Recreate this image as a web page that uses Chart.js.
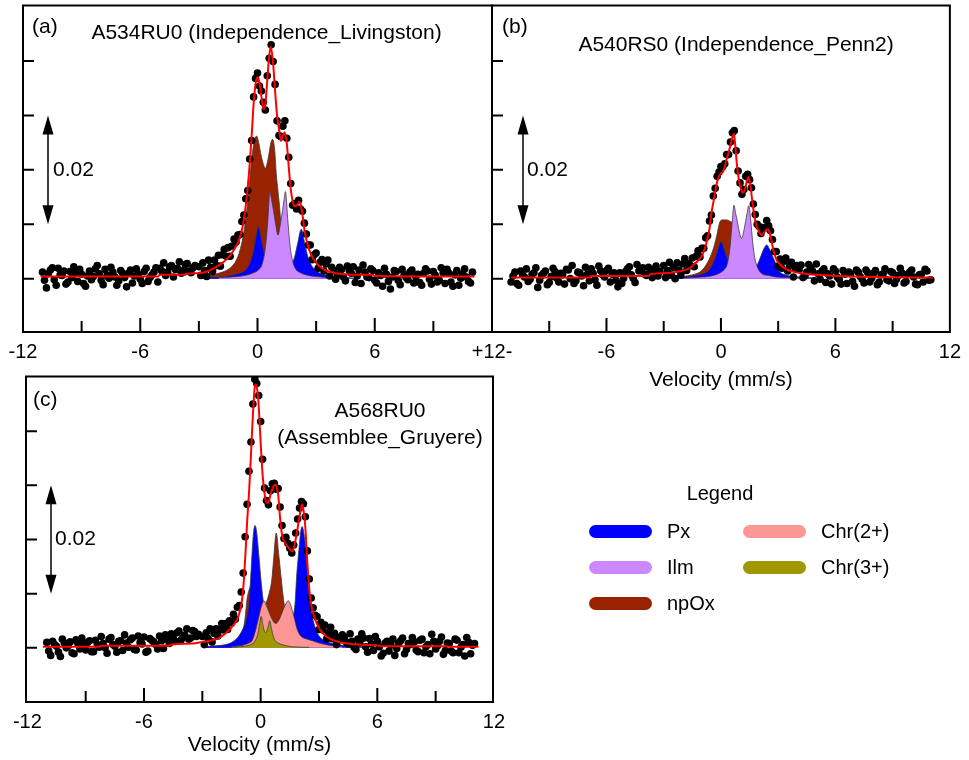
<!DOCTYPE html>
<html><head><meta charset="utf-8">
<script src="https://cdn.jsdelivr.net/npm/chart.js@4.4.0/dist/chart.umd.min.js"></script>
<style>
html,body{margin:0;padding:0;background:#fff;width:969px;height:760px;overflow:hidden;font-family:"Liberation Sans",Arial,sans-serif;}
canvas{position:absolute;left:0;top:0;}
.t{position:absolute;font-size:20px;line-height:24px;color:#000;white-space:nowrap;}
.sw{position:absolute;width:63px;height:13px;border-radius:7px;}
</style></head><body>
<canvas id="ca" width="969" height="760"></canvas>
<canvas id="cb" width="969" height="760"></canvas>
<canvas id="cc" width="969" height="760"></canvas>
<div id="legend"></div>
<script>
// ---------- DATA ----------
const velocity = [-11.0,-10.8,-10.6,-10.4,-10.2,-10.0,-9.8,-9.6,-9.4,-9.2,-9.0,-8.8,-8.6,-8.4,-8.2,-8.0,-7.8,-7.6,-7.4,-7.2,-7.0,-6.8,-6.6,-6.4,-6.2,-6.0,-5.8,-5.6,-5.4,-5.2,-5.0,-4.8,-4.6,-4.4,-4.2,-4.0,-3.8,-3.6,-3.4,-3.2,
-3.0,-2.9,-2.8,-2.7,-2.6,-2.5,-2.4,-2.3,-2.2,-2.1,-2.0,-1.9,-1.8,-1.7,-1.6,-1.5,-1.4,-1.3,-1.2,-1.1,-1.0,-0.9,-0.8,-0.7,-0.6,-0.5,-0.4,-0.3,-0.2,-0.1,0.0,0.1,0.2,0.3,0.4,0.5,0.6,0.7,0.8,0.9,1.0,1.1,1.2,1.3,1.4,1.5,1.6,1.7,1.8,1.9,2.0,2.1,2.2,2.3,2.4,2.5,2.6,2.7,2.8,2.9,3.0,3.1,3.2,3.3,3.4,3.5,3.6,3.7,3.8,3.9,4.0,
4.2,4.4,4.6,4.8,5.0,5.2,5.4,5.6,5.8,6.0,6.2,6.4,6.6,6.8,7.0,7.2,7.4,7.6,7.8,8.0,8.2,8.4,8.6,8.8,9.0,9.2,9.4,9.6,9.8,10.0,10.2,10.4,10.6,10.8,11.0];
// interleaved channels in the flat wings
const velocityMid = [-10.9,-10.7,-10.5,-10.3,-10.1,-9.9,-9.7,-9.5,-9.3,-9.1,-8.9,-8.7,-8.5,-8.3,-8.1,-7.9,-7.7,-7.5,-7.3,-7.1,-6.9,-6.7,-6.5,-6.3,-6.1,-5.9,-5.7,-5.5,-5.3,-5.1,-4.9,-4.7,-4.5,-4.3,-4.1,-3.9,-3.7,-3.5,-3.3,
4.1,4.3,4.5,4.7,4.9,5.1,5.3,5.5,5.7,5.9,6.1,6.3,6.5,6.7,6.9,7.1,7.3,7.5,7.7,7.9,8.1,8.3,8.5,8.7,8.9,9.1,9.3,9.5,9.7,9.9,10.1,10.3,10.5,10.7,10.9];

const obsA = [0.0012,-0.0017,0.0016,-0.0002,0.0019,0.0006,-0.0010,0.0013,0.0022,-0.0005,0.0008,-0.0014,0.0014,0.0004,0.0024,-0.0003,0.0017,0.0001,0.0012,-0.0012,0.0015,0.0002,0.0010,-0.0008,0.0018,-0.0001,0.0013,-0.0005,0.0007,0.0020,0.0019,0.0029,0.0012,0.0024,0.0017,0.0031,0.0015,0.0028,0.0011,0.0024,
0.0022,0.0006,0.0029,0.0015,0.0004,0.0034,0.0021,0.0013,0.0034,0.0024,0.0043,0.0023,0.0044,0.0054,0.0041,0.0057,0.0041,0.0060,0.0073,0.0067,0.0080,0.0081,0.0105,0.0117,0.0147,0.0162,0.0220,0.0254,0.0334,0.0368,0.0378,0.0354,0.0345,0.0324,0.0310,0.0373,0.0405,0.0430,0.0399,0.0357,0.0290,0.0263,0.0261,0.0280,0.0290,0.0258,0.0223,0.0175,0.0135,0.0138,0.0128,0.0144,0.0128,0.0124,0.0102,0.0082,0.0062,0.0062,0.0035,0.0044,0.0047,0.0019,0.0030,0.0035,0.0014,0.0027,0.0034,0.0005,0.0021,0.0015,-0.0001,
0.0021,0.0003,0.0023,0.0010,-0.0007,0.0016,0.0025,0.0003,0.0018,-0.0003,0.0011,-0.0014,0.0008,-0.0019,0.0015,-0.0003,0.0017,0.0002,0.0012,-0.0008,0.0008,-0.0012,0.0018,-0.0001,0.0013,-0.0006,0.0020,-0.0009,0.0010,-0.0014,0.0015,0.0001,0.0018,-0.0005,0.0012];
const obsAMid = [-0.0003,0.0009,0.0020,-0.0012,0.0007,0.0014,-0.0006,0.0002,0.0011,0.0017,-0.0009,0.0005,-0.0002,0.0018,0.0009,-0.0011,0.0006,0.0021,0.0003,-0.0004,0.0010,-0.0015,0.0016,0.0005,0.0008,-0.0009,0.0019,0.0002,0.0012,-0.0006,0.0014,0.0006,0.0022,0.0003,0.0019,0.0010,0.0026,0.0014,0.0020,
0.0008,0.0017,-0.0004,0.0014,0.0022,0.0005,-0.0009,0.0012,0.0002,0.0015,-0.0008,0.0006,0.0019,-0.0005,0.0003,0.0013,-0.0011,0.0007,-0.0002,0.0016,0.0004,-0.0007,0.0010,0.0014,-0.0010,0.0006,-0.0003,0.0011,0.0017,-0.0006,0.0007,-0.0012,0.0009,0.0003,-0.0008];

const obsB = [-0.0006,0.0012,-0.0012,0.0007,0.0018,-0.0001,0.0011,-0.0016,0.0006,0.0014,-0.0007,0.0019,0.0001,0.0010,-0.0010,0.0016,0.0024,-0.0004,0.0011,-0.0013,0.0008,0.0018,-0.0002,0.0023,0.0007,0.0015,-0.0006,0.0011,-0.0015,-0.0009,0.0013,0.0022,0.0001,0.0026,0.0015,0.0008,0.0021,0.0002,0.0023,0.0013,
0.0024,0.0002,0.0015,0.0030,0.0007,0.0021,0.0000,0.0029,0.0016,0.0007,0.0027,0.0037,0.0015,0.0028,0.0024,0.0038,0.0022,0.0041,0.0051,0.0040,0.0056,0.0056,0.0075,0.0079,0.0106,0.0117,0.0152,0.0166,0.0188,0.0196,0.0206,0.0206,0.0211,0.0228,0.0228,0.0251,0.0268,0.0272,0.0235,0.0198,0.0176,0.0155,0.0164,0.0188,0.0192,0.0182,0.0167,0.0137,0.0118,0.0100,0.0096,0.0083,0.0094,0.0093,0.0107,0.0097,0.0088,0.0072,0.0050,0.0050,0.0023,0.0036,0.0019,0.0032,0.0038,0.0014,0.0024,0.0030,0.0003,0.0018,0.0024,
0.0025,0.0005,0.0026,0.0014,0.0027,-0.0001,0.0018,0.0009,-0.0010,0.0014,-0.0001,0.0015,-0.0009,0.0009,-0.0014,0.0012,-0.0001,0.0016,-0.0006,0.0010,-0.0011,0.0007,0.0018,-0.0004,0.0011,-0.0001,0.0019,-0.0008,0.0008,0.0016,-0.0010,0.0007,-0.0006,0.0014,-0.0002];
const obsBMid = [0.0005,-0.0009,0.0014,0.0003,-0.0005,0.0008,0.0020,-0.0003,0.0010,-0.0011,0.0004,0.0013,-0.0006,0.0007,0.0017,0.0000,-0.0009,0.0012,0.0005,0.0021,-0.0004,0.0010,-0.0012,0.0014,0.0003,0.0019,0.0008,-0.0003,0.0011,0.0001,0.0018,0.0007,-0.0007,0.0014,0.0020,0.0006,0.0012,0.0017,0.0005,
0.0017,0.0002,0.0012,0.0020,-0.0004,0.0009,0.0014,-0.0007,0.0005,0.0018,0.0003,-0.0010,0.0008,0.0012,-0.0005,0.0016,0.0004,-0.0008,0.0011,0.0001,0.0015,-0.0006,0.0009,-0.0002,0.0013,-0.0009,0.0006,0.0010,-0.0005,0.0012,0.0003,-0.0011,0.0008,0.0017,-0.0003];

const obsC = [0.0010,-0.0014,0.0006,-0.0008,0.0016,0.0000,0.0011,-0.0011,0.0008,0.0018,-0.0004,0.0013,-0.0007,0.0006,0.0021,0.0000,0.0016,0.0006,-0.0008,0.0013,0.0024,0.0001,0.0018,-0.0004,0.0010,0.0020,-0.0006,0.0014,0.0006,0.0022,-0.0001,0.0016,0.0026,0.0012,0.0031,0.0019,0.0035,0.0018,0.0030,0.0025,
0.0021,0.0006,0.0028,0.0017,0.0035,0.0011,0.0027,0.0035,0.0022,0.0033,0.0045,0.0033,0.0045,0.0034,0.0050,0.0046,0.0062,0.0053,0.0075,0.0078,0.0103,0.0138,0.0205,0.0265,0.0326,0.0380,0.0450,0.0496,0.0488,0.0466,0.0418,0.0348,0.0295,0.0272,0.0264,0.0290,0.0303,0.0304,0.0293,0.0294,0.0260,0.0226,0.0202,0.0204,0.0193,0.0184,0.0175,0.0190,0.0212,0.0238,0.0258,0.0270,0.0266,0.0242,0.0179,0.0127,0.0092,0.0074,0.0060,0.0058,0.0034,0.0047,0.0033,0.0042,0.0017,0.0028,0.0038,0.0017,0.0027,0.0006,0.0019,
0.0024,0.0011,0.0026,0.0001,0.0016,0.0026,0.0002,0.0017,-0.0005,0.0012,-0.0015,0.0009,-0.0006,0.0016,-0.0001,0.0013,-0.0011,0.0008,0.0019,-0.0004,0.0014,-0.0009,0.0006,0.0025,-0.0002,0.0012,-0.0012,0.0009,-0.0006,0.0016,-0.0009,0.0006,0.0019,-0.0011,0.0008];
const obsCMid = [-0.0006,0.0012,0.0003,-0.0016,0.0009,0.0004,-0.0009,0.0015,-0.0002,0.0007,0.0010,-0.0007,0.0014,0.0001,0.0008,-0.0010,0.0019,0.0003,0.0012,-0.0005,0.0009,0.0015,-0.0003,0.0022,0.0007,-0.0008,0.0017,0.0011,-0.0002,0.0013,0.0024,0.0008,0.0018,0.0028,0.0014,0.0023,0.0016,0.0032,0.0021,
0.0015,0.0020,0.0007,0.0012,-0.0003,0.0009,0.0018,-0.0008,0.0007,0.0021,0.0002,-0.0010,0.0012,0.0005,-0.0014,0.0009,0.0018,-0.0003,0.0006,0.0011,-0.0007,0.0016,0.0002,-0.0011,0.0012,0.0004,0.0020,-0.0005,0.0008,-0.0009,0.0014,0.0001,-0.0015,0.0010,0.0005];

const fitA = [[-11.1,0.0004],[-5.1,0.0004],[-5.0,0.0007],[-3.7,0.0007],[-3.6,0.0009],[-3.0,0.0010],[-2.5,0.0014],[-2.2,0.0020],[-2.0,0.0024],[-1.8,0.0029],[-1.6,0.0035],[-1.4,0.0043],[-1.2,0.0053],[-1.0,0.0066],[-0.9,0.0076],[-0.8,0.0089],[-0.7,0.0108],[-0.6,0.0135],[-0.5,0.0168],[-0.4,0.0210],[-0.3,0.0262],[-0.2,0.0320],[-0.1,0.0358],[0.0,0.0370],[0.1,0.0360],[0.2,0.0335],[0.3,0.0312],[0.4,0.0320],[0.5,0.0365],[0.6,0.0410],[0.68,0.0426],[0.8,0.0395],[0.9,0.0345],[1.0,0.0300],[1.1,0.0275],[1.2,0.0253],[1.3,0.0262],[1.39,0.0269],[1.5,0.0248],[1.6,0.0205],[1.7,0.0165],[1.8,0.0143],[1.9,0.0133],[2.0,0.0134],[2.12,0.0141],[2.2,0.0138],[2.3,0.0118],[2.4,0.0090],[2.5,0.0072],[2.6,0.0058],[2.7,0.0048],[2.8,0.0040],[3.0,0.0029],[3.2,0.0022],[3.5,0.0015],[3.8,0.0012],[4.0,0.0010],[4.5,0.0008],[5.0,0.0007],[5.9,0.0007],[6.0,0.0005],[11.1,0.0004]];
const pxA = [[-3.0,0.0002],[-2.0,0.0003],[-1.5,0.0005],[-1.0,0.0009],[-0.7,0.0013],[-0.5,0.0021],[-0.35,0.0032],[-0.2,0.0052],[-0.1,0.0072],[0.05,0.0095],[0.2,0.0072],[0.35,0.0045],[0.55,0.0026],[0.8,0.0016],[1.1,0.0012],[1.4,0.0014],[1.7,0.0024],[1.9,0.0040],[2.05,0.0064],[2.24,0.0091],[2.4,0.0068],[2.55,0.0044],[2.7,0.0029],[2.9,0.0018],[3.2,0.0010],[3.6,0.0006],[4.2,0.0003],[5.0,0.0001]];
const ilmA = [[-2.0,0.0002],[-1.0,0.0004],[-0.5,0.0007],[-0.2,0.0011],[0.1,0.0018],[0.25,0.0028],[0.41,0.0059],[0.53,0.0108],[0.63,0.0160],[0.72,0.0145],[0.82,0.0125],[0.93,0.0100],[1.05,0.0080],[1.17,0.0100],[1.28,0.0125],[1.36,0.0145],[1.43,0.0160],[1.55,0.0108],[1.67,0.0059],[1.8,0.0032],[1.95,0.0018],[2.2,0.0011],[2.6,0.0006],[3.0,0.0004],[3.5,0.0002],[4.5,0.0001]];
const npoxA = [[-3.0,0.0003],[-2.5,0.0005],[-2.0,0.0010],[-1.6,0.0015],[-1.3,0.0023],[-1.1,0.0033],[-0.9,0.0052],[-0.7,0.0085],[-0.5,0.0142],[-0.37,0.0193],[-0.25,0.0234],[-0.15,0.0255],[-0.05,0.0262],[0.05,0.0252],[0.2,0.0224],[0.41,0.0203],[0.55,0.0222],[0.7,0.0252],[0.78,0.0256],[0.88,0.0236],[0.96,0.0193],[1.05,0.0160],[1.13,0.0132],[1.22,0.0092],[1.4,0.0058],[1.7,0.0032],[2.0,0.0020],[2.5,0.0010],[3.0,0.0006],[3.5,0.0004],[4.0,0.0002]];

const fitB = [[-11.0,0.0002],[-6.9,0.0002],[-6.8,0.0005],[-3.8,0.0005],[-3.7,0.0008],[-3.0,0.0010],[-2.6,0.0011],[-2.2,0.0013],[-1.8,0.0017],[-1.6,0.0020],[-1.4,0.0027],[-1.2,0.0033],[-1.0,0.0042],[-0.9,0.0050],[-0.8,0.0060],[-0.7,0.0075],[-0.6,0.0092],[-0.5,0.0120],[-0.4,0.0140],[-0.3,0.0160],[-0.2,0.0178],[-0.1,0.0188],[0.0,0.0194],[0.1,0.0196],[0.2,0.0205],[0.3,0.0220],[0.4,0.0232],[0.5,0.0245],[0.6,0.0260],[0.68,0.0266],[0.75,0.0245],[0.85,0.0205],[0.95,0.0180],[1.05,0.0165],[1.15,0.0158],[1.25,0.0163],[1.35,0.0178],[1.45,0.0187],[1.55,0.0170],[1.65,0.0140],[1.75,0.0115],[1.85,0.0098],[1.95,0.0090],[2.05,0.0083],[2.15,0.0080],[2.25,0.0084],[2.35,0.0089],[2.45,0.0091],[2.55,0.0085],[2.65,0.0070],[2.75,0.0052],[2.9,0.0036],[3.1,0.0026],[3.3,0.0020],[3.5,0.0016],[3.8,0.0013],[4.2,0.0010],[4.6,0.0008],[5.0,0.0007],[6.0,0.0005],[8.0,0.0003],[11.1,0.0002]];
const pxB = [[-3.0,0.0001],[-2.0,0.0003],[-1.5,0.0005],[-1.0,0.0008],[-0.7,0.0013],[-0.5,0.0022],[-0.3,0.0038],[-0.15,0.0055],[0.0,0.0068],[0.15,0.0056],[0.3,0.0040],[0.5,0.0025],[0.8,0.0015],[1.2,0.0011],[1.6,0.0014],[1.9,0.0025],[2.1,0.0042],[2.25,0.0055],[2.4,0.0062],[2.55,0.0054],[2.7,0.0042],[2.85,0.0030],[3.0,0.0018],[3.1,0.0012],[3.3,0.0008],[3.6,0.0005],[4.2,0.0003],[5.0,0.0001]];
const ilmB = [[-2.0,0.0001],[-1.0,0.0003],[-0.5,0.0005],[-0.09,0.0010],[0.15,0.0016],[0.34,0.0028],[0.48,0.0059],[0.6,0.0108],[0.68,0.0135],[0.77,0.0120],[0.86,0.0105],[0.95,0.0088],[1.08,0.0074],[1.2,0.0088],[1.29,0.0105],[1.37,0.0120],[1.46,0.0134],[1.55,0.0112],[1.63,0.0080],[1.72,0.0050],[1.82,0.0031],[2.12,0.0010],[2.5,0.0006],[2.9,0.0003],[3.5,0.0002],[4.5,0.0001]];
const npoxB = [[-3.0,0.0002],[-2.0,0.0004],[-1.5,0.0007],[-1.0,0.0015],[-0.7,0.0030],[-0.5,0.0045],[-0.34,0.0062],[-0.2,0.0082],[-0.08,0.0102],[0.05,0.0108],[0.3,0.0108],[0.5,0.0105],[0.7,0.0100],[0.9,0.0088],[1.1,0.0065],[1.3,0.0045],[1.6,0.0028],[2.0,0.0016],[2.5,0.0009],[3.0,0.0005],[3.5,0.0003],[4.5,0.0001]];

const fitC = [[-11.2,0.0002],[-8.3,0.0002],[-8.2,0.0004],[-4.7,0.0004],[-4.6,0.0006],[-3.5,0.0008],[-3.0,0.0011],[-2.5,0.0014],[-2.15,0.0018],[-1.9,0.0024],[-1.63,0.0033],[-1.4,0.0042],[-1.2,0.0053],[-1.1,0.0064],[-0.98,0.0083],[-0.9,0.0108],[-0.82,0.0150],[-0.77,0.0182],[-0.69,0.0237],[-0.6,0.0286],[-0.51,0.0348],[-0.43,0.0409],[-0.36,0.0455],[-0.29,0.0486],[-0.22,0.0483],[-0.15,0.0470],[-0.09,0.0440],[0.0,0.0378],[0.08,0.0329],[0.15,0.0300],[0.22,0.0280],[0.3,0.0268],[0.39,0.0268],[0.5,0.0282],[0.6,0.0293],[0.7,0.0300],[0.77,0.0301],[0.85,0.0293],[0.91,0.0280],[0.99,0.0243],[1.05,0.0222],[1.11,0.0206],[1.25,0.0194],[1.37,0.0188],[1.5,0.0182],[1.63,0.0178],[1.73,0.0188],[1.83,0.0206],[1.95,0.0232],[2.06,0.0255],[2.14,0.0265],[2.21,0.0252],[2.28,0.0231],[2.35,0.0190],[2.4,0.0157],[2.46,0.0128],[2.52,0.0101],[2.62,0.0076],[2.75,0.0058],[2.95,0.0040],[3.17,0.0028],[3.5,0.0018],[4.0,0.0011],[4.5,0.0008],[5.0,0.0006],[6.1,0.0004],[6.2,0.0003],[9.6,0.0003],[9.7,0.0002],[11.2,0.0002]];
const pxC = [[-3.0,0.0002],[-2.2,0.0004],[-1.8,0.0006],[-1.4,0.0012],[-1.12,0.0022],[-0.9,0.0036],[-0.77,0.0048],[-0.6,0.0083],[-0.51,0.0132],[-0.43,0.0182],[-0.36,0.0215],[-0.29,0.0226],[-0.21,0.0215],[-0.12,0.0182],[0.0,0.0132],[0.12,0.0090],[0.3,0.0052],[0.5,0.0032],[0.8,0.0020],[1.1,0.0018],[1.4,0.0026],[1.6,0.0048],[1.77,0.0083],[1.85,0.0132],[1.97,0.0182],[2.06,0.0215],[2.14,0.0224],[2.22,0.0212],[2.32,0.0182],[2.45,0.0120],[2.56,0.0080],[2.66,0.0058],[2.8,0.0038],[3.0,0.0022],[3.3,0.0013],[3.6,0.0009],[4.0,0.0006],[4.6,0.0003],[5.5,0.0001]];
const npoxC = [[-3.0,0.0002],[-2.0,0.0004],[-1.5,0.0006],[-1.2,0.0010],[-0.95,0.0025],[-0.8,0.0055],[-0.7,0.0090],[-0.62,0.0104],[-0.5,0.0115],[-0.4,0.0118],[-0.25,0.0108],[-0.05,0.0085],[0.15,0.0075],[0.3,0.0085],[0.43,0.0100],[0.57,0.0125],[0.68,0.0169],[0.8,0.0212],[0.94,0.0169],[1.08,0.0120],[1.2,0.0083],[1.4,0.0050],[1.7,0.0025],[2.0,0.0015],[2.5,0.0007],[3.0,0.0004],[4.0,0.0001]];
const chr2C = [[-1.5,0.0002],[-0.9,0.0005],[-0.6,0.0009],[-0.43,0.0014],[-0.25,0.0034],[-0.09,0.0058],[0.05,0.0078],[0.17,0.0087],[0.3,0.0078],[0.43,0.0066],[0.6,0.0052],[0.77,0.0045],[0.95,0.0052],[1.1,0.0065],[1.25,0.0078],[1.42,0.0087],[1.55,0.0078],[1.71,0.0058],[1.88,0.0034],[2.06,0.0022],[2.4,0.0016],[2.66,0.0013],[3.0,0.0009],[3.5,0.0005],[4.2,0.0002]];
const chr3C = [[-1.5,0.0001],[-0.8,0.0003],[-0.5,0.0006],[-0.3,0.0012],[-0.15,0.0025],[-0.05,0.0045],[0.03,0.0058],[0.1,0.0045],[0.18,0.0032],[0.26,0.0028],[0.34,0.0033],[0.41,0.0043],[0.46,0.0050],[0.53,0.0040],[0.62,0.0025],[0.75,0.0013],[0.95,0.0008],[1.2,0.0005],[1.6,0.0002],[2.5,0.0001]];

const xTickValues = [-12, -6, 0, 6, 12];
const xMajorInner = [-6, 0, 6];
const xMinorInner = [-9, -3, 3, 9];
const yTickValues = [0, 0.01, 0.02, 0.03, 0.04];
const scaleBarLabel = '0.02';
const legendNames = ['Px', 'Ilm', 'npOx', 'Chr(2+)', 'Chr(3+)'];

// ---------- STYLE ----------
const COL = {Px:'#0000FF', Ilm:'#CC88FF', npOx:'#992200', 'Chr(2+)':'#FF9696', 'Chr(3+)':'#A09800'};
const FONT = '"Liberation Sans", Arial, sans-serif';
Chart.defaults.font.family = FONT;
Chart.defaults.color = '#000';

const pts = arr => arr.map(p => ({x: p[0], y: p[1]}));
const obsPts = (vs, ys) => vs.map((v, i) => ({x: v, y: ys[i]}));

function comp(label, data, order) {
  return {type:'line', label, data: pts(data), backgroundColor: COL[label], borderColor:'#3a3a3a',
    borderWidth: 0.8, fill:'origin', pointRadius:0, cubicInterpolationMode:'monotone', order};
}
function fitDs(data) {
  return {type:'line', label:'Fit', data: pts(data), borderColor:'#FF0000', borderWidth:2,
    pointRadius:0, fill:false, cubicInterpolationMode:'monotone', order:0};
}
function obsDs(ys, ysMid) {
  return {type:'scatter', label:'Data', data: obsPts(velocity, ys).concat(obsPts(velocityMid, ysMid)),
    pointRadius:3.8, pointHoverRadius:3.8, backgroundColor:'#000', borderColor:'#000', borderWidth:0, showLine:false, order:1};
}

const deco = {
  id: 'deco',
  afterDraw(chart, args, o) {
    const {ctx, chartArea: a, scales: {x, y}} = chart;
    ctx.save();
    ctx.strokeStyle = '#000'; ctx.lineWidth = 2;
    ctx.beginPath();
    yTickValues.forEach(v => { const py = y.getPixelForValue(v); ctx.moveTo(a.left, py); ctx.lineTo(a.left + 11, py); });
    xMajorInner.forEach(v => { const px = x.getPixelForValue(v); ctx.moveTo(px, a.bottom); ctx.lineTo(px, a.bottom - 14); });
    xMinorInner.forEach(v => { const px = x.getPixelForValue(v); ctx.moveTo(px, a.bottom); ctx.lineTo(px, a.bottom - 11); });
    ctx.stroke();
    ctx.strokeRect(a.left, a.top, a.right - a.left, a.bottom - a.top);
    const ax = a.left + o.arrowDx;
    const yt = y.getPixelForValue(0.03), yb = y.getPixelForValue(0.01);
    ctx.lineWidth = 1.5;
    ctx.beginPath(); ctx.moveTo(ax, yt + 12); ctx.lineTo(ax, yb - 12); ctx.stroke();
    ctx.fillStyle = '#000';
    ctx.beginPath(); ctx.moveTo(ax, yt); ctx.lineTo(ax - 5.5, yt + 19); ctx.lineTo(ax + 5.5, yt + 19); ctx.closePath(); ctx.fill();
    ctx.beginPath(); ctx.moveTo(ax, yb); ctx.lineTo(ax - 5.5, yb - 19); ctx.lineTo(ax + 5.5, yb - 19); ctx.closePath(); ctx.fill();
    ctx.font = '21px ' + FONT;
    ctx.textBaseline = 'middle'; ctx.textAlign = 'left';
    ctx.fillText(scaleBarLabel, ax + o.labelDx, y.getPixelForValue(0.02));
    ctx.fillText(o.panel, a.left + o.panelDx, o.panelY);
    ctx.textAlign = 'center';
    o.titles.forEach(t => ctx.fillText(t.text, t.x, t.y));
    ctx.restore();
  }
};

function makeChart(id, cfg) {
  return new Chart(document.getElementById(id), {
    type: 'scatter',
    data: {datasets: cfg.datasets},
    options: {
      responsive: false, animation: false, devicePixelRatio: 1,
      layout: {autoPadding: false, padding: cfg.pad},
      plugins: {legend: {display: false}, tooltip: {enabled: false}, deco: cfg.deco},
      scales: {
        x: {type: 'linear', min: cfg.xmin, max: cfg.xmax,
          afterBuildTicks: s => { s.ticks = xTickValues.map(v => ({value: v})); },
          afterFit: s => { s.height = cfg.axisH; },
          grid: {display: false, drawTicks: false}, border: {display: false},
          ticks: {padding: 8, maxRotation: 0, autoSkip: false, font: {size: 20}, color: '#000',
            callback: cfg.tickLabel},
          title: {display: !!cfg.xTitle, text: cfg.xTitle || '', font: {size: 21}, color: '#000', padding: {top: 0, bottom: 0}}
        },
        y: {type: 'linear', display: false, min: cfg.ymin, max: cfg.ymax}
      }
    },
    plugins: [deco]
  });
}

makeChart('ca', {
  pad: {left: 23, right: 477, top: 5.5, bottom: 388}, axisH: 40,
  xmin: -12, xmax: 12, ymin: -0.0098, ymax: 0.0502,
  tickLabel: v => v === 12 ? '+12-' : String(v),
  datasets: [fitDs(fitA), obsDs(obsA, obsAMid), comp('Ilm', ilmA, 2), comp('Px', pxA, 3), comp('npOx', npoxA, 4)],
  deco: {arrowDx: 25, labelDx: 5, panel: '(a)', panelDx: 9, panelY: 27,
    titles: [{text: 'A534RU0 (Independence_Livingston)', x: 266.5, y: 33}]}
});
makeChart('cb', {
  pad: {left: 492, right: 10, top: 5.5, bottom: 367.4}, axisH: 60.6,
  xmin: -12, xmax: 12, ymin: -0.0098, ymax: 0.0502, xTitle: 'Velocity (mm/s)',
  tickLabel: v => v === -12 ? '' : String(v),
  datasets: [fitDs(fitB), obsDs(obsB, obsBMid), comp('Ilm', ilmB, 2), comp('Px', pxB, 3), comp('npOx', npoxB, 4)],
  deco: {arrowDx: 31, labelDx: 4, panel: '(b)', panelDx: 10, panelY: 27,
    titles: [{text: 'A540RS0 (Independence_Penn2)', x: 736, y: 45}]}
});
makeChart('cc', {
  pad: {left: 26, right: 476, top: 376.5, bottom: 2.4}, axisH: 55.6,
  xmin: -12.07, xmax: 11.95, ymin: -0.0100, ymax: 0.0501, xTitle: 'Velocity (mm/s)',
  tickLabel: v => String(v),
  datasets: [fitDs(fitC), obsDs(obsC, obsCMid), comp('Chr(3+)', chr3C, 2), comp('Chr(2+)', chr2C, 3), comp('Px', pxC, 4), comp('npOx', npoxC, 5)],
  deco: {arrowDx: 25, labelDx: 4, panel: '(c)', panelDx: 7, panelY: 400.5,
    titles: [{text: 'A568RU0', x: 380, y: 411}, {text: '(Assemblee_Gruyere)', x: 380, y: 438.5}]}
});

// ---------- LEGEND (HTML text) ----------
const lg = document.getElementById('legend');
function addText(txt, left, cy, center) {
  const d = document.createElement('div'); d.className = 't'; d.textContent = txt;
  d.style.top = (cy - 12) + 'px';
  if (center) { d.style.left = (left - 100) + 'px'; d.style.width = '200px'; d.style.textAlign = 'center'; }
  else d.style.left = left + 'px';
  lg.appendChild(d);
}
addText('Legend', 720, 493, true);
const legPos = [[589, 531], [589, 567], [589, 603], [743, 531], [743, 567]];
legendNames.forEach((n, i) => {
  const [lx, cy] = legPos[i];
  const s = document.createElement('div'); s.className = 'sw';
  s.style.left = lx + 'px'; s.style.top = (cy - 6.5) + 'px'; s.style.background = COL[n];
  lg.appendChild(s);
  addText(n, lx + 78, cy, false);
});
</script>
</body></html>
